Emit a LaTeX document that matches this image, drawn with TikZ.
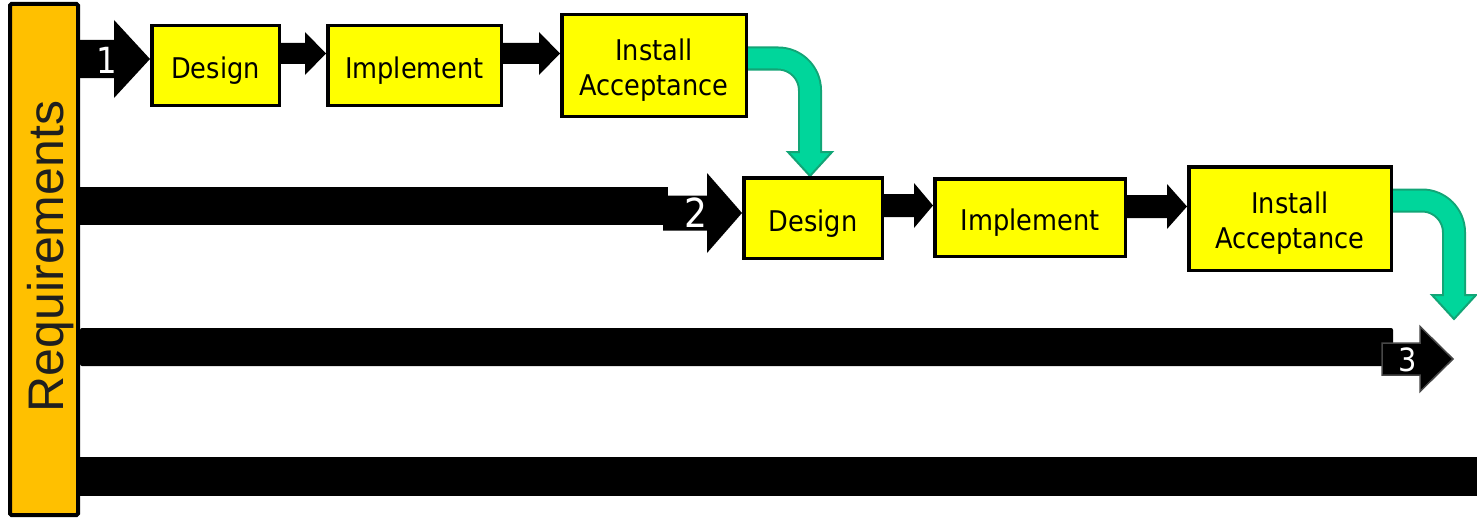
\documentclass[tikz,border=0pt]{standalone}
\usepackage{fontspec}
\setmainfont{DejaVu Sans}
\newfontfamily\boxfont[FakeStretch=0.9]{DejaVu Sans}
\newfontfamily\reqfont{Liberation Sans}
\usetikzlibrary{calc}
\pgfdeclarelayer{background}
\pgfsetlayers{background,main}
\definecolor{boxyellow}{RGB}{255,255,0}
\definecolor{reqorange}{RGB}{255,192,0}
\definecolor{mint}{RGB}{0,214,155}
\definecolor{mintdark}{RGB}{18,165,118}
\newcommand\blkarrow[6][]{%
  \path[fill=black,#1] let \p1=(#2), \p2=(#3) in
    (\x1,{\y2+#4pt}) -- ({\x2-#6pt},{\y2+#4pt}) -- ({\x2-#6pt},{\y2+#5pt}) -- (\x2,\y2)
    -- ({\x2-#6pt},{\y2-#5pt}) -- ({\x2-#6pt},{\y2-#4pt}) -- (\x1,{\y2-#4pt}) -- cycle;}
\tikzset{
  stagebox/.style={draw=black, line width=3.5pt, fill=boxyellow, align=center,
    inner sep=0pt, font=\boxfont\fontsize{28.5}{35}\selectfont, text=black},
  oneline/.style={text height=26pt, text depth=0pt},
  twoline/.style={text height=59.5pt, text depth=0pt},
  digit/.style={text=white, inner sep=0pt},
  blkbar/.style={fill=black},
}
\begin{document}
\begin{tikzpicture}[x=1pt,y=-1pt]
\useasboundingbox (0,0) rectangle (1477,519);
% requirements bar
\node[draw=black, line width=4pt, fill=reqorange, minimum width=68pt, minimum height=511pt,
  inner sep=0pt, rounded corners=1.5pt] (req) at (44,259.5) {};
\node[rotate=90, anchor=base, inner sep=0pt, text={black!88}, font=\reqfont\fontsize{50}{50}\selectfont]
  (reqtext) at (63,256.5) {Requirements};
% stage boxes
\node[stagebox, oneline, minimum width=127.5pt, minimum height=79.5pt] (d1) at (215.5,65.5) {Design};
\node[stagebox, oneline, minimum width=173.5pt, minimum height=79.5pt] (i1) at (414.5,65.5) {Implement};
\node[stagebox, twoline, minimum width=184.5pt, minimum height=101.5pt] (ia1) at (654,65.5) {Install\\Acceptance};
\node[stagebox, oneline, minimum width=138.5pt, minimum height=80.5pt] (d2) at (813,218) {Design};
\node[stagebox, oneline, minimum width=190.5pt, minimum height=77.5pt] (i2) at (1030,217.5) {Implement};
\node[stagebox, twoline, minimum width=202.5pt, minimum height=103.5pt] (ia2) at (1290,218.5) {Install\\Acceptance};
% coordinates
\coordinate (a2s) at (663,213);
\coordinate (r2end) at (668,225);
\coordinate (r3end) at (1393,366);
\coordinate (a3s) at (1382,359);
\coordinate (a3t) at (1453,359);
\coordinate (r4end) at (1477,496);
\coordinate (g2t) at (1454,319);
% row bars
\fill[blkbar] (req.east |- 0,187) rectangle (r2end);
\fill[blkbar, rounded corners=2pt] (req.east |- 0,328) rectangle (r3end);
\fill[blkbar] (req.east |- 0,457) rectangle (r4end);
% row arrows
\blkarrow{req.east}{[yshift=6.5pt]d1.west}{19}{39}{36}
\blkarrow{a2s}{[yshift=5pt]d2.west}{17.5}{40}{35}
\blkarrow[draw=black!72, line width=1.5pt]{a3s}{a3t}{16}{32.5}{33}
% inter-box arrows
\blkarrow{[yshift=12pt]d1.east}{[yshift=12pt]i1.west}{10.5}{21.5}{21}
\blkarrow{[yshift=12pt]i1.east}{[yshift=12pt]ia1.west}{10.5}{21.5}{21}
\blkarrow{[yshift=12pt]d2.east}{[yshift=12pt]i2.west}{11.5}{22.5}{19}
\blkarrow{[yshift=12pt]i2.east}{[yshift=12pt]ia2.west}{11.5}{22.5}{20}
% digits
\node[digit, font=\boxfont\fontsize{36}{36}\selectfont] (n1) at (107,60) {1};
\node[digit, font=\boxfont\fontsize{40}{40}\selectfont] (n2) at (696,213) {2};
\node[digit, font=\boxfont\fontsize{32}{32}\selectfont] (n3) at (1408,360) {3};
% green bent arrows (behind the boxes)
\coordinate (g1s) at ([yshift=7pt]ia1.east);
\coordinate (g1t) at ([xshift=-3pt]d2.north);
\coordinate (g2s) at ([yshift=18pt]ia2.east);
\begin{pgfonlayer}{background}
\draw[mintdark, line width=24pt, rounded corners=32pt] (g1s) -| ($(g1t)+(0,-24)$);
\filldraw[fill=mint, draw=mintdark, line width=2pt] ($(g1t)+(-22,-24)$) -- ($(g1t)+(22,-24)$) -- (g1t) -- cycle;
\draw[mint, line width=20pt, rounded corners=32pt] (g1s) -| ($(g1t)+(0,-21)$);
\draw[mintdark, line width=24pt, rounded corners=32pt] (g2s) -| ($(g2t)+(0,-24)$);
\filldraw[fill=mint, draw=mintdark, line width=2pt] ($(g2t)+(-22,-24)$) -- ($(g2t)+(22,-24)$) -- (g2t) -- cycle;
\draw[mint, line width=20pt, rounded corners=32pt] (g2s) -| ($(g2t)+(0,-21)$);
\end{pgfonlayer}
\end{tikzpicture}
\end{document}
